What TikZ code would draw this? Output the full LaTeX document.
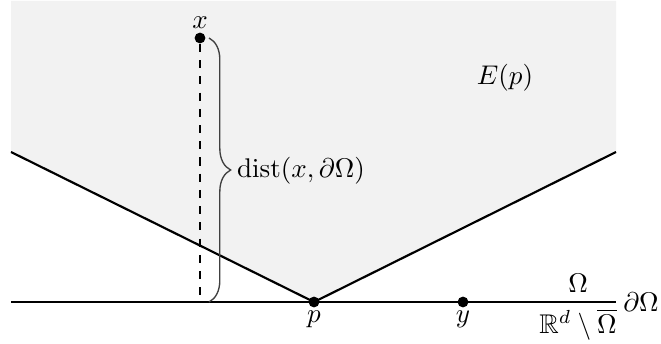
\documentclass[tikz,border=0pt]{standalone}
\usepackage{amsmath,amssymb}
\usetikzlibrary{decorations.pathreplacing}
\begin{document}
\begin{tikzpicture}[x=0.37pt,y=-0.37pt,
  bd/.style={line width=0.8pt},
  dot/.style={circle,fill=black,inner sep=0pt,minimum size=4pt},
  lab/.style={inner sep=1pt}]
\useasboundingbox (0,0) rectangle (661,344);
\fill[black!5] (11,1) -- (616,1) -- (616,152) -- (314,302) -- (11,152) -- cycle;
\coordinate (L) at (11,152);
\coordinate (R) at (616,152);
\coordinate (B0) at (11,302);
\coordinate (B1) at (616,302);
\coordinate (xf) at (200,302);
\node[dot] (p) at (314,302) {};
\node[dot] (x) at (200,38) {};
\node[dot] (y) at (463,302) {};
\draw[dashed,line width=0.4pt] (x) -- (xf);
\draw[bd] (L) -- (p.center) -- (R);
\draw[bd] (B0) -- (B1);
\coordinate (bt) at (209,38);
\coordinate (bb) at (209,302);
\draw[black!75,line width=0.5pt,decorate,decoration={brace,amplitude=8pt}] (bt) -- (bb);
\node[lab,anchor=west] (d) at (234,171) {$\operatorname{dist}(x,\partial\Omega)$};
\node[lab,anchor=south] (xl) at (x.north) {$x$};
\node[lab,anchor=north] (pl) at (p.south) {$p$};
\node[lab,anchor=north] (yl) at (y.south) {$y$};
\node[lab] (E) at (505,78) {$E(p)$};
\node[lab,anchor=south] (Om) at (578,296) {$\Omega$};
\node[lab,anchor=north] (Oc) at (578,306) {$\mathbb{R}^d\setminus\overline{\Omega}$};
\node[lab,anchor=west] (dO) at (620,302) {$\partial\Omega$};
\end{tikzpicture}
\end{document}
